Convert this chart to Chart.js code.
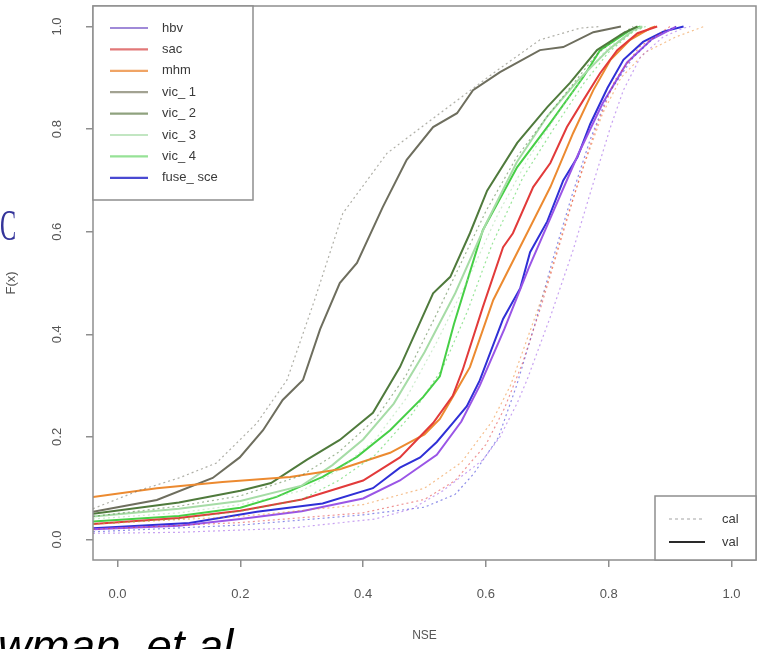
<!DOCTYPE html>
<html><head><meta charset="utf-8">
<script src="https://cdn.jsdelivr.net/npm/chart.js@4/dist/chart.umd.min.js"></script>
<style>html,body{margin:0;padding:0;background:#fff;}#wrap{position:relative;width:769px;height:649px;overflow:hidden;}</style>
</head><body><div id="wrap"><canvas id="c"></canvas></div>
<script>
// ---- data ----
const models = ['hbv','sac','mhm','vic_1','vic_2','vic_3','vic_4','fuse_sce'];
const legendLabels = ['hbv','sac','mhm','vic_ 1','vic_ 2','vic_ 3','vic_ 4','fuse_ sce'];
const periodLabels = ['cal','val'];
const xTickValues = [0,0.2,0.4,0.6,0.8,1.0];
const xTickLabels = ['0.0','0.2','0.4','0.6','0.8','1.0'];
const yTickValues = [0,0.2,0.4,0.6,0.8,1.0];
const yTickLabels = ['0.0','0.2','0.4','0.6','0.8','1.0'];
const xTitle = 'NSE';
const yTitle = 'F(x)';

// [NSE, F(x)] pairs
const hbv_cal = [[-0.04,0.012],[0.1,0.014],[0.28,0.022],[0.42,0.04],[0.48,0.06],[0.53,0.095],[0.595,0.155],[0.623,0.2],[0.651,0.266],[0.667,0.311],[0.705,0.434],[0.742,0.564],[0.775,0.695],[0.803,0.804],[0.824,0.876],[0.852,0.941],[0.889,0.98],[0.922,0.997],[0.933,1.0]];
const hbv_val = [[-0.04,0.02],[0.1,0.027],[0.2,0.04],[0.3,0.055],[0.4,0.08],[0.46,0.115],[0.52,0.165],[0.56,0.23],[0.59,0.3],[0.63,0.41],[0.67,0.53],[0.71,0.64],[0.75,0.75],[0.79,0.85],[0.83,0.93],[0.87,0.975],[0.91,1.0]];
const sac_cal = [[-0.04,0.02],[0.2,0.033],[0.4,0.052],[0.5,0.078],[0.55,0.115],[0.6,0.185],[0.63,0.255],[0.66,0.345],[0.69,0.455],[0.72,0.575],[0.75,0.695],[0.78,0.805],[0.81,0.895],[0.85,0.96],[0.9,1.0]];
const sac_val = [[-0.04,0.03],[0.1,0.042],[0.2,0.056],[0.3,0.078],[0.4,0.115],[0.46,0.16],[0.514,0.227],[0.546,0.28],[0.562,0.33],[0.595,0.453],[0.628,0.57],[0.644,0.597],[0.677,0.687],[0.705,0.734],[0.732,0.804],[0.759,0.857],[0.786,0.909],[0.814,0.954],[0.847,0.987],[0.879,1.0]];
const mhm_cal = [[-0.04,0.03],[0.2,0.045],[0.4,0.068],[0.5,0.1],[0.56,0.15],[0.61,0.23],[0.64,0.3],[0.67,0.4],[0.7,0.5],[0.73,0.62],[0.76,0.73],[0.79,0.83],[0.82,0.9],[0.86,0.95],[0.91,0.98],[0.955,1.0]];
const mhm_val = [[-0.04,0.083],[0.064,0.1],[0.171,0.112],[0.281,0.122],[0.362,0.137],[0.444,0.169],[0.5,0.205],[0.525,0.235],[0.546,0.278],[0.574,0.336],[0.612,0.467],[0.667,0.597],[0.705,0.687],[0.742,0.792],[0.775,0.876],[0.803,0.935],[0.835,0.974],[0.868,0.997],[0.876,1.0]];
const vic_1_cal = [[-0.04,0.06],[0.036,0.096],[0.1,0.12],[0.161,0.149],[0.227,0.227],[0.276,0.311],[0.321,0.467],[0.367,0.636],[0.439,0.753],[0.504,0.812],[0.612,0.909],[0.688,0.974],[0.754,0.997],[0.786,1.0]];
const vic_1_val = [[-0.04,0.054],[0.064,0.077],[0.155,0.12],[0.199,0.16],[0.237,0.213],[0.269,0.272],[0.302,0.311],[0.33,0.41],[0.362,0.5],[0.39,0.539],[0.432,0.648],[0.471,0.74],[0.514,0.804],[0.553,0.831],[0.579,0.876],[0.623,0.911],[0.688,0.954],[0.726,0.96],[0.775,0.989],[0.82,1.0]];
const vic_2_cal = [[-0.04,0.045],[0.1,0.065],[0.2,0.085],[0.3,0.125],[0.36,0.17],[0.42,0.235],[0.47,0.32],[0.52,0.44],[0.56,0.54],[0.6,0.64],[0.65,0.745],[0.7,0.825],[0.74,0.885],[0.78,0.945],[0.82,0.985],[0.84,1.0]];
const vic_2_val = [[-0.04,0.05],[0.1,0.072],[0.2,0.095],[0.25,0.11],[0.308,0.155],[0.362,0.194],[0.416,0.247],[0.46,0.336],[0.514,0.48],[0.542,0.512],[0.574,0.597],[0.602,0.68],[0.651,0.773],[0.7,0.843],[0.737,0.89],[0.781,0.954],[0.824,0.987],[0.847,1.0]];
const vic_3_cal = [[-0.04,0.04],[0.1,0.052],[0.2,0.068],[0.3,0.095],[0.36,0.135],[0.42,0.195],[0.47,0.275],[0.52,0.385],[0.57,0.505],[0.62,0.635],[0.67,0.745],[0.72,0.835],[0.76,0.905],[0.8,0.96],[0.84,0.99],[0.86,1.0]];
const vic_3_val = [[-0.04,0.045],[0.1,0.06],[0.2,0.075],[0.3,0.105],[0.35,0.145],[0.4,0.195],[0.45,0.265],[0.5,0.365],[0.55,0.48],[0.6,0.615],[0.65,0.735],[0.7,0.825],[0.75,0.895],[0.8,0.955],[0.84,0.993],[0.855,1.0]];
const vic_4_cal = [[-0.04,0.03],[0.1,0.04],[0.2,0.055],[0.3,0.078],[0.36,0.115],[0.42,0.165],[0.48,0.245],[0.53,0.335],[0.57,0.445],[0.61,0.575],[0.66,0.705],[0.71,0.8],[0.76,0.89],[0.8,0.95],[0.84,0.99],[0.86,1.0]];
const vic_4_val = [[-0.04,0.035],[0.1,0.046],[0.2,0.062],[0.259,0.083],[0.334,0.122],[0.39,0.161],[0.444,0.213],[0.498,0.278],[0.525,0.318],[0.548,0.42],[0.595,0.603],[0.651,0.726],[0.705,0.812],[0.759,0.902],[0.786,0.954],[0.835,0.993],[0.852,1.0]];
const fuse_sce_cal = [[-0.04,0.015],[0.2,0.028],[0.4,0.048],[0.5,0.063],[0.55,0.088],[0.58,0.128],[0.62,0.198],[0.65,0.3],[0.68,0.42],[0.71,0.55],[0.74,0.67],[0.77,0.78],[0.8,0.87],[0.84,0.94],[0.88,0.985],[0.91,1.0]];
const fuse_sce_val = [[-0.04,0.022],[0.117,0.032],[0.227,0.054],[0.334,0.07],[0.416,0.1],[0.46,0.14],[0.493,0.16],[0.52,0.19],[0.546,0.227],[0.569,0.26],[0.59,0.31],[0.628,0.43],[0.656,0.49],[0.672,0.56],[0.7,0.62],[0.726,0.7],[0.749,0.745],[0.77,0.81],[0.798,0.88],[0.824,0.935],[0.856,0.97],[0.889,0.99],[0.922,1.0]];

// ---- styles ----
const modelColors = {hbv:'#9a55e6', sac:'#e23a3a', mhm:'#ec8a30', vic_1:'#6e6e5e', vic_2:'#4f7a3c', vic_3:'#a6dca6', vic_4:'#46cf46', fuse_sce:'#2f2fd6'};
const legendColors = {hbv:'#a08ad8', sac:'#e27878', mhm:'#f0a465', vic_1:'#a2a292', vic_2:'#8fa27e', vic_3:'#c2e6c2', vic_4:'#96e296', fuse_sce:'#4a4ad2'};
const seriesTable = {
  hbv:[hbv_cal,hbv_val], sac:[sac_cal,sac_val], mhm:[mhm_cal,mhm_val],
  vic_1:[vic_1_cal,vic_1_val], vic_2:[vic_2_cal,vic_2_val], vic_3:[vic_3_cal,vic_3_val],
  vic_4:[vic_4_cal,vic_4_val], fuse_sce:[fuse_sce_cal,fuse_sce_val]
};
const FONT = "'Liberation Sans', Arial, Helvetica, sans-serif";

function hexA(hex, a){const n=parseInt(hex.slice(1),16);return `rgba(${n>>16},${(n>>8)&255},${n&255},${a})`;}
const toXY = arr => arr.map(p => ({x:p[0], y:p[1]}));

const datasets = [];
models.forEach(m => datasets.push({label:m+' cal', data:toXY(seriesTable[m][0]), borderColor:hexA(modelColors[m],0.55), borderWidth:1.2, borderDash:[2,3], pointRadius:0, tension:0, fill:false}));
models.forEach(m => datasets.push({label:m+' val', data:toXY(seriesTable[m][1]), borderColor:modelColors[m], borderWidth:2, pointRadius:0, tension:0, fill:false}));

const rLook = {
  id:'rLook',
  afterDatasetsDraw(chart){
    const {ctx, chartArea:a} = chart;
    ctx.save();
    ctx.strokeStyle='#8e8e8e'; ctx.lineWidth=1.5;
    ctx.strokeRect(a.left, a.top, a.right-a.left, a.bottom-a.top);
    // top-left legend
    const L = a.left, T = a.top;
    ctx.fillStyle='#fff'; ctx.fillRect(L, T, 160, 194);
    ctx.strokeRect(L, T, 160, 194);
    ctx.font = '13px '+FONT; ctx.textBaseline='middle'; ctx.textAlign='left';
    models.forEach((m,i)=>{
      const y = T + 22 + i*21.4;
      ctx.strokeStyle=legendColors[m]; ctx.lineWidth=2.2; ctx.setLineDash([]);
      ctx.beginPath(); ctx.moveTo(L+17,y); ctx.lineTo(L+55,y); ctx.stroke();
      ctx.fillStyle='#3a3a3a'; ctx.fillText(legendLabels[i], L+69, y);
    });
    // bottom-right legend
    const R = a.right, B = a.bottom, W = 101, H = 64, BL = R - W, BT = B - H;
    ctx.fillStyle='#fff'; ctx.fillRect(BL, BT, W, H);
    ctx.strokeStyle='#8e8e8e'; ctx.lineWidth=1.5; ctx.strokeRect(BL, BT, W, H);
    periodLabels.forEach((p,i)=>{
      const y = BT + 23 + i*23;
      ctx.beginPath();
      if (p==='cal'){ctx.strokeStyle='#b8b8b8'; ctx.lineWidth=1.3; ctx.setLineDash([3,3]);}
      else {ctx.strokeStyle='#2a2a2a'; ctx.lineWidth=2; ctx.setLineDash([]);}
      ctx.moveTo(BL+14,y); ctx.lineTo(BL+50,y); ctx.stroke();
      ctx.setLineDash([]);
      ctx.fillStyle='#3a3a3a'; ctx.fillText(p, BL+67, y);
    });
    ctx.restore();
  },
  afterDraw(chart){
    const ctx = chart.ctx;
    ctx.save();
    // slide overlay fragments visible in the picture
    ctx.fillStyle='#34349a';
    ctx.font = "44px 'Liberation Serif', 'DejaVu Serif', serif";
    ctx.textBaseline='alphabetic'; ctx.textAlign='left';
    ctx.save(); ctx.translate(0,240); ctx.scale(0.55,1); ctx.fillText('C', 0, 0); ctx.restore();
    ctx.fillStyle='#000';
    ctx.font = "italic 46px 'Liberation Sans', Arial, sans-serif";
    ctx.fillText('wman, et al', -2, 662);
    ctx.restore();
  }
};

new Chart(document.getElementById('c'), {
  type:'line',
  data:{datasets},
  plugins:[rLook],
  options:{
    responsive:true, maintainAspectRatio:false, animation:false,
    layout:{padding:{top:6, right:13, left:0, bottom:0}},
    plugins:{legend:{display:false}, tooltip:{enabled:false}},
    scales:{
      x:{type:'linear', min:-0.04, max:1.04,
        afterBuildTicks: s => { s.ticks = xTickValues.map(v=>({value:v})); },
        afterFit: s => { s.height = 89; s.paddingLeft=0; s.paddingRight=0; },
        grid:{drawOnChartArea:false, drawTicks:true, tickLength:7, color:'#8e8e8e', lineWidth:1.5},
        border:{display:false},
        ticks:{autoSkip:false, maxRotation:0, padding:20, color:'#555', font:{family:FONT, size:13},
          callback:(v,i)=>xTickLabels[i]},
        title:{display:true, text:xTitle, color:'#555', font:{family:FONT, size:12}, padding:{top:0,bottom:6}}
      },
      y:{type:'linear', min:-0.04, max:1.04,
        afterBuildTicks: s => { s.ticks = yTickValues.map(v=>({value:v})); },
        afterFit: s => { s.width = 93; s.paddingTop=0; s.paddingBottom=0; },
        grid:{drawOnChartArea:false, drawTicks:true, tickLength:7, color:'#8e8e8e', lineWidth:1.5},
        border:{display:false},
        ticks:{autoSkip:false, minRotation:90, maxRotation:90, crossAlign:'center', padding:20, color:'#555', font:{family:FONT, size:13},
          callback:(v,i)=>yTickLabels[i]},
        title:{display:true, text:yTitle, color:'#555', font:{family:FONT, size:13}, padding:{top:4,bottom:0}}
      }
    }
  }
});
</script></body></html>
